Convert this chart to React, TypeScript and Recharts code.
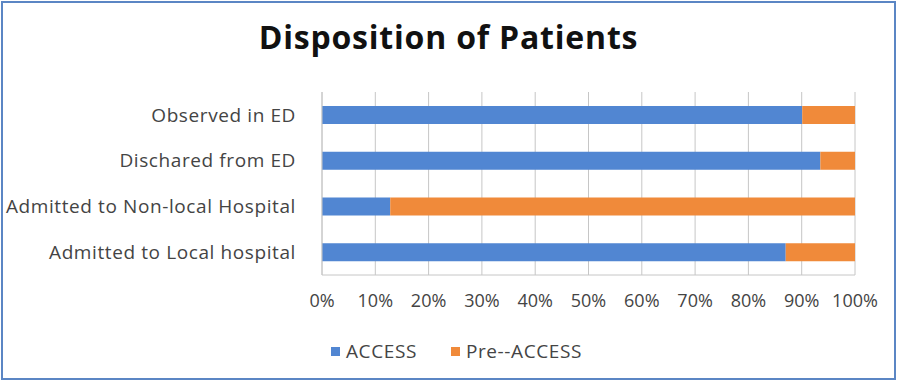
import React from "react";
import {
  BarChart,
  Bar,
  XAxis,
  YAxis,
  CartesianGrid,
  Legend,
} from "recharts";

const categories = [
  "Observed in ED",
  "Dischared from ED",
  "Admitted to Non-local Hospital",
  "Admitted to Local hospital",
];
const accessShare = [0.901, 0.935, 0.128, 0.87];
const preAccessShare = [0.099, 0.065, 0.872, 0.13];
const xTicks = [0, 0.1, 0.2, 0.3, 0.4, 0.5, 0.6, 0.7, 0.8, 0.9, 1];

const BLUE = "#5186D2";
const ORANGE = "#F08A3A";
const FONT = "'Open Sans', 'Noto Sans', sans-serif";

const data = categories.map((name, i) => ({
  name,
  ACCESS: accessShare[i],
  "Pre--ACCESS": preAccessShare[i],
}));

const renderLegend = (props: any) => {
  const { payload } = props;
  return (
    <div
      style={{
        display: "flex",
        justifyContent: "center",
        gap: 34,
        fontFamily: FONT,
        fontSize: 19,
        letterSpacing: 0.6,
        color: "#444",
        paddingLeft: 58,
      }}
    >
      {payload.map((p: any) => (
        <div key={p.value} style={{ display: "flex", alignItems: "center" }}>
          <span
            style={{
              display: "inline-block",
              width: 9,
              height: 9,
              background: p.color,
              marginRight: 6,
            }}
          />
          {p.value}
        </div>
      ))}
    </div>
  );
};

export default function App() {
  return (
    <div
      style={{
        position: "absolute",
        left: 0,
        top: 0,
        width: 897,
        height: 381,
        background: "#fff",
      }}
    >
      <div
        style={{
          position: "absolute",
          left: 1,
          top: 1,
          width: 891,
          height: 375,
          border: "2px solid #5B86C4",
        }}
      />
      <div
        style={{
          position: "absolute",
          left: 0,
          top: 15,
          width: 897,
          textAlign: "center",
          fontFamily: FONT,
          fontWeight: 700,
          fontSize: 32,
          letterSpacing: 0.8,
          color: "#111",
        }}
      >
        Disposition of Patients
      </div>
      <BarChart
        width={897}
        height={381}
        data={data}
        layout="vertical"
        margin={{ top: 92, right: 42, left: 0, bottom: 0 }}
        style={{ position: "absolute", left: 0, top: 0 }}
      >
        <CartesianGrid horizontal={false} stroke="#c6c6c6" />
        <XAxis
          type="number"
          domain={[0, 1]}
          ticks={xTicks}
          tickFormatter={(v: number) => `${Math.round(v * 100)}%`}
          tickLine={false}
          axisLine={{ stroke: "#c6c6c6" }}
          tick={{ fill: "#444", fontSize: 18, fontFamily: FONT }}
          tickMargin={13}
          height={40}
        />
        <YAxis
          type="category"
          dataKey="name"
          width={322}
          tickLine={false}
          axisLine={{ stroke: "#c6c6c6" }}
          tick={{
            fill: "#444",
            fontSize: 19,
            fontFamily: FONT,
            letterSpacing: 0.6,
          }}
          tickMargin={20}
        />
        <Legend
          content={renderLegend}
          verticalAlign="bottom"
          height={66}
          wrapperStyle={{ bottom: 0, top: 338 }}
        />
        <Bar
          dataKey="ACCESS"
          stackId="a"
          fill={BLUE}
          barSize={18}
          isAnimationActive={false}
        />
        <Bar
          dataKey="Pre--ACCESS"
          stackId="a"
          fill={ORANGE}
          barSize={18}
          isAnimationActive={false}
        />
      </BarChart>
    </div>
  );
}
